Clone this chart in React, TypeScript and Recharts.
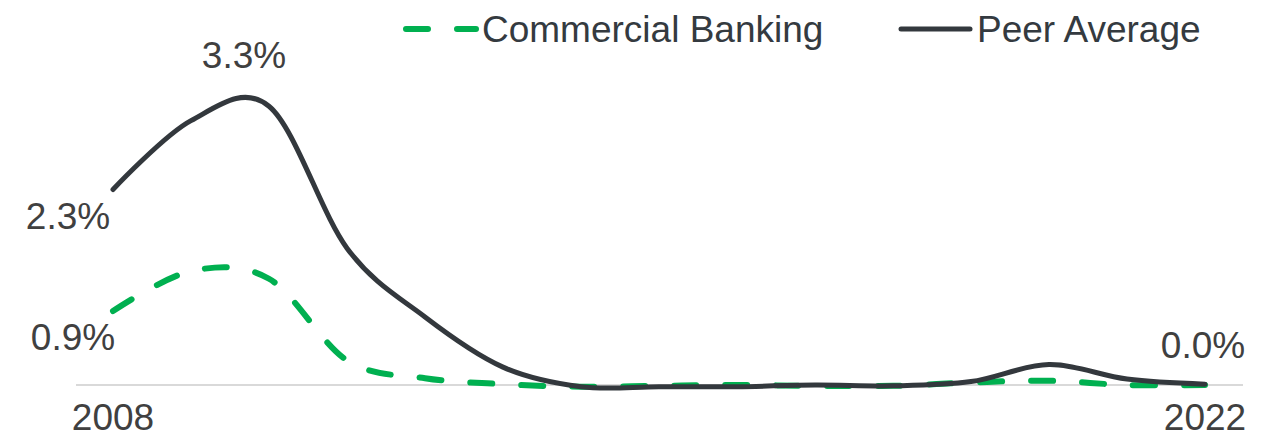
import React from 'react';
import { LineChart, Line, XAxis, YAxis, ReferenceLine, LabelList, Legend } from 'recharts';

const YEARS = ['2008', '2009', '2010', '2011', '2012', '2013', '2014', '2015', '2016', '2017', '2018', '2019', '2020', '2021', '2022'];
const COMMERCIAL_BANKING = [0.87, 1.34, 1.25, 0.29, 0.08, 0.01, -0.02, -0.01, 0.0, -0.01, -0.01, 0.03, 0.05, 0.0, 0.0];
const PEER_AVERAGE = [2.3, 3.11, 3.28, 1.61, 0.8, 0.21, -0.02, -0.02, -0.02, 0.0, -0.01, 0.04, 0.24, 0.07, 0.01];
const TICK_LABELS = ['2008', '2022'];

const SERIES_NAMES = { cb: 'Commercial Banking', peer: 'Peer Average' };

const data = YEARS.map((year, i) => ({
  year,
  cb: COMMERCIAL_BANKING[i],
  peer: PEER_AVERAGE[i],
}));

// label placement (style only): index -> offset from the point to the text baseline
const PEER_LABEL_POS: Record<number, { dx: number; dy: number }> = {
  0: { dx: -45, dy: 39 },
  2: { dx: -25, dy: -38 },
};
const CB_LABEL_POS: Record<number, { dx: number; dy: number }> = {
  0: { dx: -40, dy: 39 },
  14: { dx: -2, dy: -27 },
};

const GREEN = '#00b050';
const DARK = '#33383d';
const TEXT = '#404040';
const FONT = '"Liberation Sans", Arial, sans-serif';
const FS = 37;

// Catmull-Rom style cardinal curve (tension 0), like Excel's smoothed line
class CardinalCurve {
  _context: any;
  _k: number;
  _line: any;
  _point = 0;
  _x0 = NaN; _x1 = NaN; _x2 = NaN; _y0 = NaN; _y1 = NaN; _y2 = NaN;
  constructor(context: any, tension: number) {
    this._context = context;
    this._k = (1 - tension) / 6;
  }
  _bez(x: number, y: number) {
    this._context.bezierCurveTo(
      this._x1 + this._k * (this._x2 - this._x0),
      this._y1 + this._k * (this._y2 - this._y0),
      this._x2 + this._k * (this._x1 - x),
      this._y2 + this._k * (this._y1 - y),
      this._x2,
      this._y2
    );
  }
  areaStart() { this._line = 0; }
  areaEnd() { this._line = NaN; }
  lineStart() {
    this._x0 = this._x1 = this._x2 = this._y0 = this._y1 = this._y2 = NaN;
    this._point = 0;
  }
  lineEnd() {
    switch (this._point) {
      case 2: this._context.lineTo(this._x2, this._y2); break;
      case 3: this._bez(this._x1, this._y1); break;
    }
    if (this._line || (this._line !== 0 && this._point === 1)) this._context.closePath();
    this._line = 1 - this._line;
  }
  point(x: number, y: number) {
    x = +x; y = +y;
    switch (this._point) {
      case 0:
        this._point = 1;
        this._line ? this._context.lineTo(x, y) : this._context.moveTo(x, y);
        break;
      case 1:
        this._point = 2;
        this._x1 = x; this._y1 = y;
        break;
      case 2:
        this._point = 3;
        this._bez(x, y);
        break;
      default:
        this._bez(x, y);
        break;
    }
    this._x0 = this._x1; this._x1 = this._x2; this._x2 = x;
    this._y0 = this._y1; this._y1 = this._y2; this._y2 = y;
  }
}
const smoothCurve: any = (context: any) => new CardinalCurve(context, 0);

const makeLabel = (pos: Record<number, { dx: number; dy: number }>) => (props: any) => {
  const { x, y, value, index } = props;
  const p = pos[index];
  if (!p || value == null) return null;
  return (
    <text
      x={x + p.dx}
      y={y + p.dy}
      textAnchor="middle"
      fill={TEXT}
      fontSize={FS}
      fontFamily={FONT}
    >
      {`${Number(value).toFixed(1)}%`}
    </text>
  );
};

const XTick = (props: any) => {
  const { x, y, payload } = props;
  return (
    <text x={x} y={y + 28} textAnchor="middle" fill={TEXT} fontSize={FS} fontFamily={FONT}>
      {payload.value}
    </text>
  );
};

const LEGEND_LAYOUT: Record<string, { x1: number; x2: number; tx: number }> = {
  cb: { x1: 406, x2: 476, tx: 482 },
  peer: { x1: 901, x2: 970, tx: 977 },
};

const renderLegend = (props: any) => {
  const payload = props.payload || [];
  return (
    <svg width={1279} height={60} style={{ display: 'block' }}>
      {payload.map((entry: any) => {
        const key = entry.dataKey as string;
        const l = LEGEND_LAYOUT[key];
        if (!l) return null;
        const dashed = key === 'cb';
        return (
          <g key={key}>
            <line
              x1={l.x1}
              x2={l.x2}
              y1={29}
              y2={29}
              stroke={entry.color}
              strokeWidth={dashed ? 6 : 5}
              strokeLinecap="round"
              strokeDasharray={dashed ? '22 29' : undefined}
            />
            <text x={l.tx} y={42} fill="#343a40" fontSize={FS} fontFamily={FONT}>
              {entry.value}
            </text>
          </g>
        );
      })}
    </svg>
  );
};

export default function App() {
  return (
    <div style={{ position: 'absolute', left: 0, top: 0, width: 1279, height: 436, background: '#fff' }}>
      <LineChart
        width={1279}
        height={436}
        data={data}
        margin={{ top: 45, right: 36, bottom: 4, left: 76 }}
      >
        <XAxis
          dataKey="year"
          ticks={TICK_LABELS}
          interval={0}
          axisLine={false}
          tickLine={false}
          tickSize={0}
          tickMargin={0}
          height={30}
          padding={{ left: 37, right: 38 }}
          tick={<XTick />}
        />
        <YAxis hide domain={[-0.2, 4]} type="number" />
        <Legend
          verticalAlign="middle"
          align="center"
          layout="horizontal"
          wrapperStyle={{ top: 0, left: 0, width: 1279, height: 60 }}
          content={renderLegend}
        />
        <ReferenceLine y={0} stroke="#d9d9d9" strokeWidth={2} />
        <Line
          dataKey="cb"
          name={SERIES_NAMES.cb}
          type={smoothCurve}
          stroke={GREEN}
          strokeWidth={6}
          strokeDasharray="22 29"
          strokeLinecap="round"
          dot={false}
          activeDot={false}
          isAnimationActive={false}
        >
          <LabelList dataKey="cb" content={makeLabel(CB_LABEL_POS)} />
        </Line>
        <Line
          dataKey="peer"
          name={SERIES_NAMES.peer}
          type={smoothCurve}
          stroke={DARK}
          strokeWidth={5}
          strokeLinecap="round"
          dot={false}
          activeDot={false}
          isAnimationActive={false}
        >
          <LabelList dataKey="peer" content={makeLabel(PEER_LABEL_POS)} />
        </Line>
      </LineChart>
    </div>
  );
}
